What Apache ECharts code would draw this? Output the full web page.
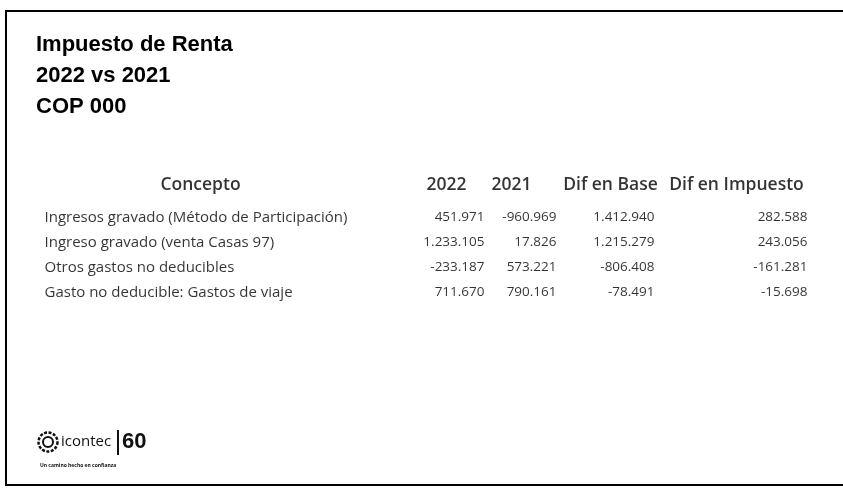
<!DOCTYPE html>
<html>
<head>
<meta charset="utf-8">
<title>Impuesto de Renta 2022 vs 2021</title>
<script src="https://cdn.jsdelivr.net/npm/echarts@6/dist/echarts.min.js"></script>
<style>
  html, body { margin: 0; padding: 0; background: #fff; }
  #chart { width: 843px; height: 490px; }
</style>
</head>
<body>
<div id="chart"></div>
<script>
// datos de la tabla
var headers = ['Concepto', '2022', '2021', 'Dif en Base', 'Dif en Impuesto'];
var conceptos = [
  'Ingresos gravado (Método de Participación)',
  'Ingreso gravado (venta Casas 97)',
  'Otros gastos no deducibles',
  'Gasto no deducible: Gastos de viaje'
];
var v2022 = [451971, 1233105, -233187, 711670];
var v2021 = [-960969, 17826, 573221, 790161];
var difBase = [1412940, 1215279, -806408, -78491];
var difImpuesto = [282588, 243056, -161281, -15698];

// layout de columnas (px) - borde derecho de cada columna numerica
var colConcepto = 45;
var colRight = [485, 557, 655, 808];
var headerX = [201, 447, 512, 611, 737];
var headerRow = -1.3;

function fmt(n) {
  var s = Math.abs(n).toString().replace(/\B(?=(\d{3})+(?!\d))/g, '.');
  return (n < 0 ? '-' : '') + s;
}

var font = '"Open Sans", "Noto Sans", sans-serif';

function textSeries(points, align, size, weight) {
  return {
    type: 'scatter',
    symbolSize: 1,
    clip: false,
    silent: true,
    itemStyle: { color: 'transparent' },
    label: {
      show: true,
      position: [0, 0],
      align: align,
      verticalAlign: 'middle',
      color: '#000',
      fontFamily: font,
      fontSize: size,
      fontWeight: weight,
      formatter: function (p) { return p.data[2]; }
    },
    data: points
  };
}

var cols = [v2022, v2021, difBase, difImpuesto];
var series = [];
series.push(textSeries(conceptos.map(function (c, i) { return [colConcepto, i, c]; }), 'left', 15, 'normal'));
cols.forEach(function (arr, c) {
  series.push(textSeries(arr.map(function (v, i) { return [colRight[c], i, fmt(v)]; }), 'right', 13.5, 'normal'));
});
series.push(textSeries(headers.map(function (h, i) { return [headerX[i], headerRow, h]; }), 'center', 17.5, 600));

var chart = echarts.init(document.getElementById('chart'));
chart.setOption({
  backgroundColor: '#fff',
  animation: false,
  title: {
    text: 'Impuesto de Renta\n2022 vs 2021\nCOP 000',
    left: 31,
    top: 24,
    textStyle: {
      fontFamily: '"Liberation Sans", Arial, sans-serif',
      fontSize: 22,
      fontWeight: 'bold',
      lineHeight: 31,
      color: '#000'
    }
  },
  grid: { left: 0, right: 0, top: 218, bottom: 197 },
  xAxis: { type: 'value', min: 0, max: 843, show: false },
  yAxis: { type: 'value', min: 0, max: 3, inverse: true, show: false },
  series: series,
  graphic: [
    // marco escaneado
    { type: 'rect', shape: { x: 6, y: 11, width: 900, height: 474 }, style: { fill: 'none', stroke: '#000', lineWidth: 2 } },
    // logo icontec
    { type: 'circle', shape: { cx: 48, cy: 442, r: 9.5 }, style: { fill: 'none', stroke: '#111', lineWidth: 2.5, lineDash: [3, 1.5] } },
    { type: 'circle', shape: { cx: 48, cy: 442, r: 5 }, style: { fill: 'none', stroke: '#111', lineWidth: 2 } },
    { type: 'text', x: 61, y: 442, style: { text: 'icontec', fontFamily: font, fontSize: 15, fill: '#111', verticalAlign: 'middle' } },
    { type: 'line', shape: { x1: 118, y1: 430, x2: 118, y2: 455 }, style: { stroke: '#111', lineWidth: 2 } },
    { type: 'text', x: 122, y: 442, style: { text: '60', fontFamily: '"Liberation Sans", Arial, sans-serif', fontWeight: 'bold', fontSize: 22, fill: '#111', verticalAlign: 'middle' } },
    { type: 'text', x: 40, y: 466, style: { text: 'Un camino hecho en confianza', fontFamily: font, fontSize: 5, fontWeight: 'bold', fill: '#111', verticalAlign: 'middle' } }
  ]
});
</script>
</body>
</html>
